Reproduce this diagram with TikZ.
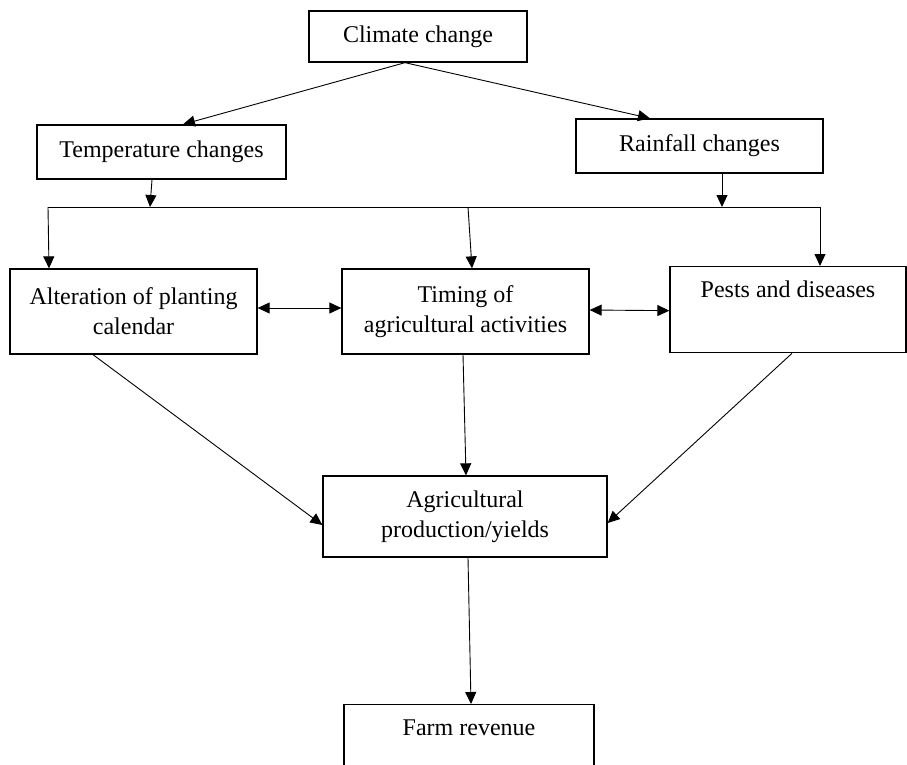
\documentclass[tikz,border=0pt]{standalone}
\usepackage{fontspec}
\setmainfont{Liberation Serif}
\usetikzlibrary{arrows.meta,calc}
\begin{document}
\begin{tikzpicture}[x=1pt,y=-1pt,
  boxbase/.style={draw, line width=1.3pt, rectangle, inner sep=0pt, font=\fontsize{24}{30}\selectfont},
  box/.style={boxbase, align=center},
  tipbox/.style={boxbase, anchor=north, text height=31pt},
  arr/.style={line width=0.9pt, -{Triangle[length=12pt,width=11pt]}},
  dbl/.style={line width=0.9pt, {Triangle[length=12pt,width=11pt]}-{Triangle[length=12pt,width=11pt]}},
  busline/.style={line width=0.9pt}]
\useasboundingbox (0,0) rectangle (907,764);
\clip (0,0) rectangle (907,764);
% boxes
\node[box, minimum width=218pt, minimum height=51pt] (clim) at (418,36.5) {Climate change};
\node[box, minimum width=249pt, minimum height=54pt] (temp) at (161.5,152) {Temperature changes};
\node[box, minimum width=247pt, minimum height=54pt] (rain) at (699.5,146) {Rainfall changes};
\node[box, minimum width=247pt, minimum height=85pt] (alt) at (133.5,311.5) {Alteration of planting\\calendar};
\node[box, minimum width=247pt, minimum height=85pt] (tim) at (465.5,311.5) {Timing of\\agricultural activities};
\node[tipbox, minimum width=236pt, text depth=55pt] (pest) at (788,266) {Pests and diseases};
\node[box, minimum width=284pt, minimum height=81pt] (agri) at (465,516.5) {Agricultural\\production/yields};
\node[tipbox, minimum width=250pt, text depth=90pt] (farm) at (469,704) {Farm revenue};
% bus
\coordinate (busL) at (48,207);
\coordinate (busT) at (150,207);
\coordinate (busM) at (468,207);
\coordinate (busRn) at (722,207);
\coordinate (busR) at (820,207);
\draw[busline] (busL) -- (busR);
% connectors
\draw[arr] ([xshift=-13pt]clim.south) -- ([xshift=21.5pt]temp.north);
\draw[arr] ([xshift=-13pt]clim.south) -- ([xshift=-49.5pt]rain.north);
\draw[arr] ([xshift=-9.5pt]temp.south) -- (busT);
\draw[arr] ([xshift=22.5pt]rain.south) -- (busRn);
\draw[arr] (busL) -- ([xshift=-84.5pt]alt.north);
\draw[arr] (busM) -- ([xshift=6.5pt]tim.north);
\draw[arr] (busR) -- ([xshift=32pt]pest.north);
\draw[dbl] ([yshift=3.5pt]alt.east) -- ([yshift=3.5pt]tim.west);
\draw[dbl] ([yshift=1.5pt]tim.east) -- ([yshift=-1pt]pest.west);
\draw[arr] ([xshift=-40.5pt]alt.south) -- ([yshift=-8.5pt]agri.west);
\draw[arr] ([xshift=-2.5pt]tim.south) -- ([xshift=1pt]agri.north);
\draw[arr] ([xshift=4pt]pest.south) -- ([yshift=-6.5pt]agri.east);
\draw[arr] ([xshift=3pt]agri.south) -- ([xshift=2pt]farm.north);
\end{tikzpicture}
\end{document}
